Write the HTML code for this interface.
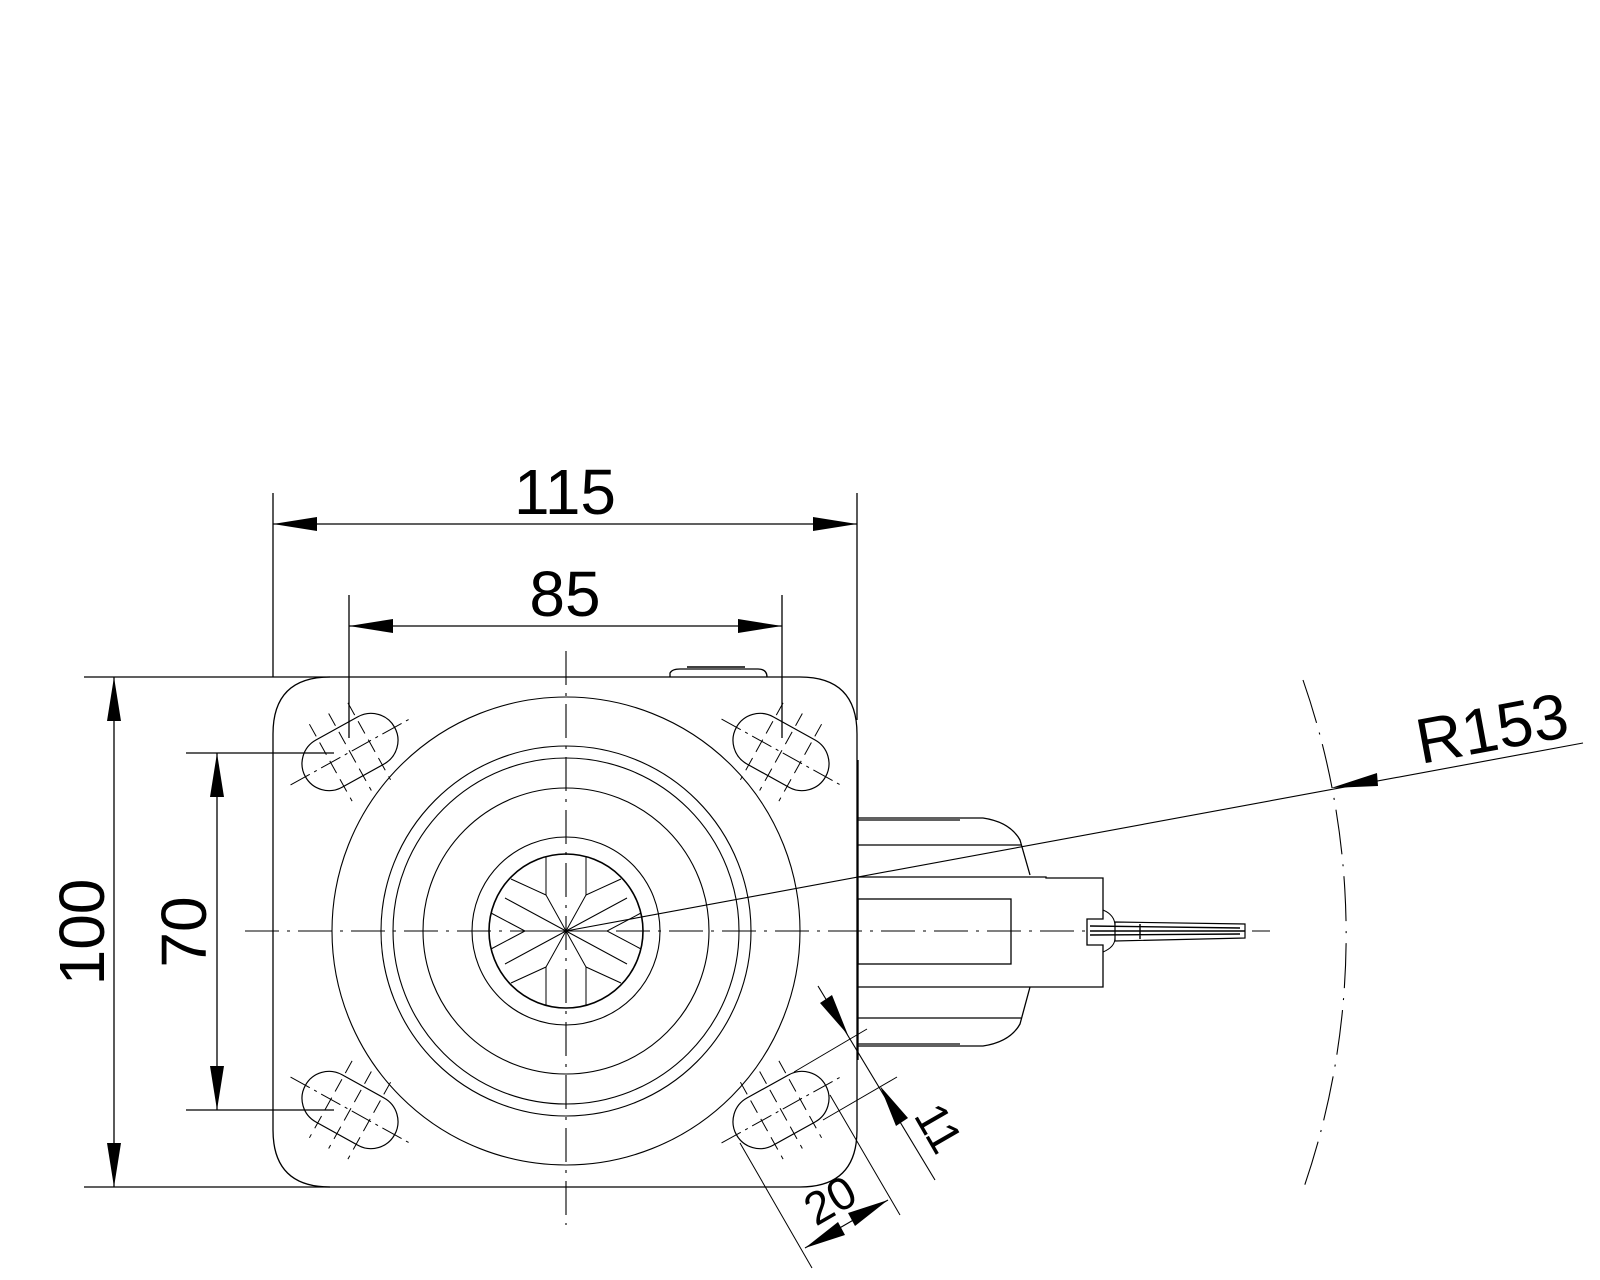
<!DOCTYPE html>
<html><head><meta charset="utf-8"><style>
html,body{margin:0;padding:0;background:#fff;}
svg{display:block;}
text{font-family:"Liberation Sans",sans-serif;fill:#000;}
</style></head><body>
<svg width="1600" height="1280" viewBox="0 0 1600 1280" xmlns="http://www.w3.org/2000/svg">
<defs>
<g id="slot">
  <rect x="-51" y="-27" width="102" height="54" rx="27" ry="27" fill="none" stroke="#000" stroke-width="1.2"/>
  <line x1="-68" y1="0" x2="68" y2="0" stroke="#000" stroke-width="1" stroke-dasharray="22 5 3 5"/>
  <line x1="-22" y1="-44" x2="-22" y2="44" stroke="#000" stroke-width="1" stroke-dasharray="14 7"/>
  <line x1="0" y1="-44" x2="0" y2="44" stroke="#000" stroke-width="1" stroke-dasharray="14 7"/>
  <line x1="22" y1="-44" x2="22" y2="44" stroke="#000" stroke-width="1" stroke-dasharray="14 7"/>
</g>
</defs>
<g fill="none" stroke="#000" stroke-width="1.3">
  <path d="M330,677 L800,677 Q857,677 857,734 L857,1130 Q857,1187 800,1187 L330,1187 Q273,1187 273,1130 L273,734 Q273,677 330,677 Z"/>
  <path d="M670,677 L670,673 Q672,669 680,669 L758,669 Q767,669 767,677"/>
  <line x1="687" y1="667" x2="745" y2="667" stroke-width="1.6"/>
  <circle cx="566" cy="931" r="234" stroke-width="1.1"/>
  <circle cx="566" cy="931" r="185" stroke-width="1.1"/>
  <circle cx="566" cy="931" r="173" stroke-width="1.1"/>
  <circle cx="566" cy="931" r="143" stroke-width="1.1"/>
  <circle cx="566" cy="931" r="94" stroke-width="1.1"/>
  <circle cx="566" cy="931" r="77" stroke-width="1.6"/>
  <g transform="translate(566,931)" stroke-width="1">
    <path d="M-20,-75 L-20,-36 L0,0 L20,-36 L20,-75"/>
    <path d="M-20,75 L-20,36 L0,0 L20,36 L20,75"/>
    <path d="M-55,-52 L-20,-36 M55,-52 L20,-36 M-55,52 L-20,36 M55,52 L20,36"/>
    <path d="M-61,-33 L0,0 L61,-33 M-61,33 L0,0 L61,33"/>
    <path d="M-75,-18 L-41,0 L-75,18 M75,-18 L41,0 L75,18"/>
    <path d="M-41,0 L0,0 L41,0"/>
  </g>
  <use href="#slot" transform="translate(350,752) rotate(-29)"/>
  <use href="#slot" transform="translate(781,752) rotate(29)"/>
  <use href="#slot" transform="translate(350,1110) rotate(29)"/>
  <use href="#slot" transform="translate(781,1110) rotate(-29)"/>
  <line x1="245" y1="931" x2="1270" y2="931" stroke-width="1.1" stroke-dasharray="34 8 3 8"/>
  <line x1="566" y1="651" x2="566" y2="1225" stroke-width="1.1" stroke-dasharray="34 8 3 8"/>
  <line x1="858" y1="760" x2="858" y2="1060"/>
  <path d="M858,818 L983,818 Q1010,822 1020,840 L1030,875"/>
  <line x1="858" y1="820" x2="960" y2="820"/>
  <line x1="858" y1="845" x2="1021" y2="845"/>
  <path d="M858,1046 L983,1046 Q1010,1042 1020,1024 L1030,987"/>
  <line x1="858" y1="1044" x2="960" y2="1044"/>
  <line x1="858" y1="1018" x2="1021" y2="1018"/>
  <path d="M858,877 L1046,877 L1046,878 L1103,878 L1103,919 L1087,919 L1087,945 L1103,945 L1103,987 L1046,987 L858,987"/>
  <rect x="858" y="899" width="153" height="65"/>
  <path d="M1103,910 Q1115,915 1115,926 M1103,952 Q1115,947 1115,938" stroke-width="1"/>
  <path d="M1115,922 L1245,924 L1245,938 L1115,941 Z" stroke-width="1.2"/>
  <path d="M1090,926 L1240,928 M1090,931 L1245,931 M1090,935 L1240,934 M1140,924 L1140,939" stroke-width="1.4"/>
  <path d="M1303,680 A775,775 0 0 1 1303,1190" stroke-width="1.1" stroke-dasharray="45 10 2 10"/>
  <line x1="566" y1="931" x2="1583" y2="743" stroke-width="1.1"/>
</g>
<g stroke="#000" stroke-width="1.3" fill="none">
  <line x1="273" y1="493" x2="273" y2="677"/>
  <line x1="857" y1="493" x2="857" y2="720"/>
  <line x1="273" y1="524" x2="857" y2="524"/>
  <line x1="349" y1="595" x2="349" y2="738"/>
  <line x1="782" y1="595" x2="782" y2="738"/>
  <line x1="349" y1="626" x2="782" y2="626"/>
  <line x1="84" y1="677" x2="330" y2="677"/>
  <line x1="84" y1="1187" x2="330" y2="1187"/>
  <line x1="114" y1="677" x2="114" y2="1187"/>
  <line x1="186" y1="753" x2="334" y2="753"/>
  <line x1="186" y1="1110" x2="334" y2="1110"/>
  <line x1="217" y1="753" x2="217" y2="1110"/>
  <line x1="740" y1="1143" x2="812" y2="1268" stroke-width="1"/>
  <line x1="830" y1="1095" x2="900" y2="1215" stroke-width="1"/>
  <line x1="805" y1="1248" x2="888" y2="1200" stroke-width="1.1"/>
  <line x1="794" y1="1072" x2="867" y2="1029" stroke-width="1"/>
  <line x1="823" y1="1120" x2="897" y2="1077" stroke-width="1"/>
  <line x1="818" y1="986" x2="935" y2="1180" stroke-width="1.1"/>
</g>
<g fill="#000">
  <polygon points="273,524 317,517 317,531"/>
  <polygon points="857,524 813,517 813,531"/>
  <polygon points="349,626 393,619 393,633"/>
  <polygon points="782,626 738,619 738,633"/>
  <polygon points="114,677 107,721 121,721"/>
  <polygon points="114,1187 107,1143 121,1143"/>
  <polygon points="217,753 210,797 224,797"/>
  <polygon points="217,1110 210,1066 224,1066"/>
  <polygon points="1331,788 1377,773 1378,786"/>
  <polygon points="805,1248 838,1222 845,1235"/>
  <polygon points="888,1200 848,1213 855,1226"/>
  <polygon points="848,1035 832,995 820,1003"/>
  <polygon points="880,1086 908,1118 896,1126"/>
</g>
<g font-size="64">
  <text x="565" y="514" text-anchor="middle">115</text>
  <text x="565" y="616" text-anchor="middle">85</text>
  <text transform="translate(104,932) rotate(-90)" text-anchor="middle">100</text>
  <text transform="translate(206,932) rotate(-90)" text-anchor="middle">70</text>
  <text transform="translate(1496,750) rotate(-10.5)" text-anchor="middle">R153</text>
</g>
<g font-size="46">
  <text transform="translate(838,1214) rotate(-30)" text-anchor="middle">20</text>
  <text transform="translate(925,1136) rotate(60)" text-anchor="middle">11</text>
</g>
</svg>
</body></html>
